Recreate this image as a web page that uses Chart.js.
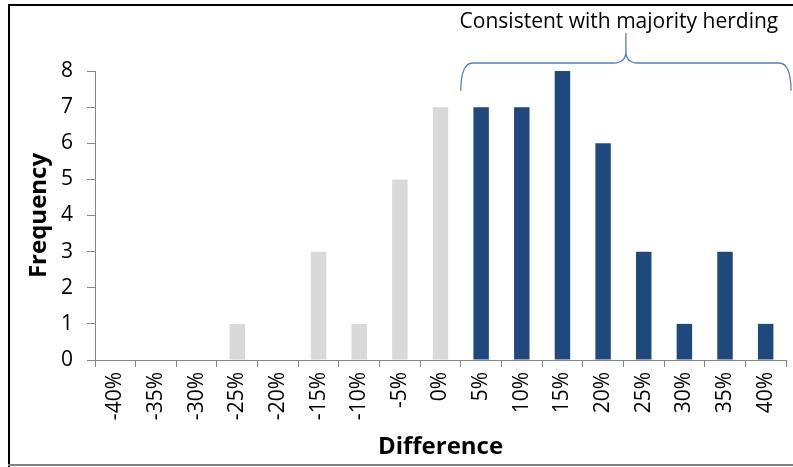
<!DOCTYPE html>
<html>
<head>
<meta charset="utf-8">
<script src="https://cdn.jsdelivr.net/npm/chart.js@4"></script>
<style>
  html, body { margin: 0; padding: 0; background: #ffffff; }
  #wrap { width: 793px; height: 467px; position: relative; }
</style>
</head>
<body>
<div id="wrap"><canvas id="c" width="793" height="467"></canvas></div>
<script>
// Distribution of the difference, in 5% bins
const categories = ['-40%','-35%','-30%','-25%','-20%','-15%','-10%','-5%','0%',
                    '5%','10%','15%','20%','25%','30%','35%','40%'];
const frequency = [0, 0, 0, 1, 0, 3, 1, 5, 7, 7, 7, 8, 6, 3, 1, 3, 1];
const yTicks = [0, 1, 2, 3, 4, 5, 6, 7, 8];
const braceLabel = 'Consistent with majority herding';
const braceFrom = '5%';
const braceTo = '40%';

const GRAY = '#D9D9D9';
const BLUE = '#1F497D';
const FONT = "'Open Sans', 'Noto Sans', sans-serif";

const barColors = frequency.map((v, i) =>
  categories.indexOf(braceFrom) <= i ? BLUE : GRAY);

// Frame around the chart plus the curly brace over the positive bins
const decorations = {
  id: 'decorations',
  afterDraw(chart) {
    const ctx = chart.ctx;
    const x = chart.scales.x, y = chart.scales.y;
    ctx.save();
    // frame
    ctx.fillStyle = '#000000';
    ctx.fillRect(8, 4, chart.width - 8, 2);
    ctx.fillRect(8, 4, 2, chart.height - 4);
    ctx.fillStyle = '#7f7f7f';
    ctx.fillRect(8, 464, chart.width - 8, 2);

    // brace
    const half = (x.getPixelForValue(1) - x.getPixelForValue(0)) / 2;
    const xs = x.getPixelForValue(categories.indexOf(braceFrom)) - half;
    const xe = x.getPixelForValue(categories.indexOf(braceTo)) + half + 5;
    const xm = (xs + xe) / 2;
    const yb = y.getPixelForValue(7.45);
    const yh = y.top - 8;
    const yp = y.top - 38;
    const r = 12;
    ctx.strokeStyle = '#4F81BD';
    ctx.lineWidth = 1.3;
    ctx.beginPath();
    ctx.moveTo(xs, yb);
    ctx.quadraticCurveTo(xs, yh, xs + r, yh);
    ctx.lineTo(xm - r, yh);
    ctx.quadraticCurveTo(xm, yh, xm, yh - r);
    ctx.lineTo(xm, yp);
    ctx.moveTo(xm, yh - r);
    ctx.quadraticCurveTo(xm, yh, xm + r, yh);
    ctx.lineTo(xe - r, yh);
    ctx.quadraticCurveTo(xe, yh, xe, yb);
    ctx.stroke();

    // brace label
    ctx.fillStyle = '#000000';
    ctx.font = "21px " + FONT;
    ctx.textAlign = 'center';
    ctx.textBaseline = 'middle';
    ctx.fillText(braceLabel, xm - 7, 22);
    ctx.restore();
  }
};

new Chart(document.getElementById('c'), {
  type: 'bar',
  data: {
    labels: categories,
    datasets: [{
      data: frequency,
      backgroundColor: barColors,
      borderWidth: 0,
      categoryPercentage: 1,
      barPercentage: 0.38
    }]
  },
  options: {
    responsive: false,
    animation: false,
    devicePixelRatio: 1,
    layout: { padding: { top: 71, right: 7, left: 0, bottom: 0 } },
    plugins: { legend: { display: false }, tooltip: { enabled: false } },
    scales: {
      x: {
        afterFit: s => { s.height = 107; s.paddingRight = 0; s.paddingLeft = 0; },
        grid: { drawOnChartArea: false, drawTicks: true, tickLength: 7, color: '#868686', offset: true },
        border: { color: '#868686', width: 1 },
        ticks: {
          color: '#000000', font: { family: FONT, size: 21 },
          minRotation: 90, maxRotation: 90, padding: 5, autoSkip: false
        },
        title: {
          display: true, text: 'Difference', color: '#000000',
          font: { family: FONT, size: 24, weight: 'bold' },
          padding: { top: 0, bottom: 5 }
        }
      },
      y: {
        min: 0, max: 8,
        afterFit: s => { s.width = 95; },
        afterBuildTicks: s => { s.ticks = yTicks.map(v => ({ value: v })); },
        grid: { drawOnChartArea: false, drawTicks: true, tickLength: 8, color: '#868686' },
        border: { color: '#868686', width: 1 },
        ticks: {
          color: '#000000', font: { family: FONT, size: 21 }, padding: 14
        },
        title: {
          display: true, text: 'Frequency', color: '#000000',
          font: { family: FONT, size: 24, weight: 'bold' },
          padding: { top: 25, bottom: 0 }
        }
      }
    }
  },
  plugins: [decorations]
});
</script>
</body>
</html>
